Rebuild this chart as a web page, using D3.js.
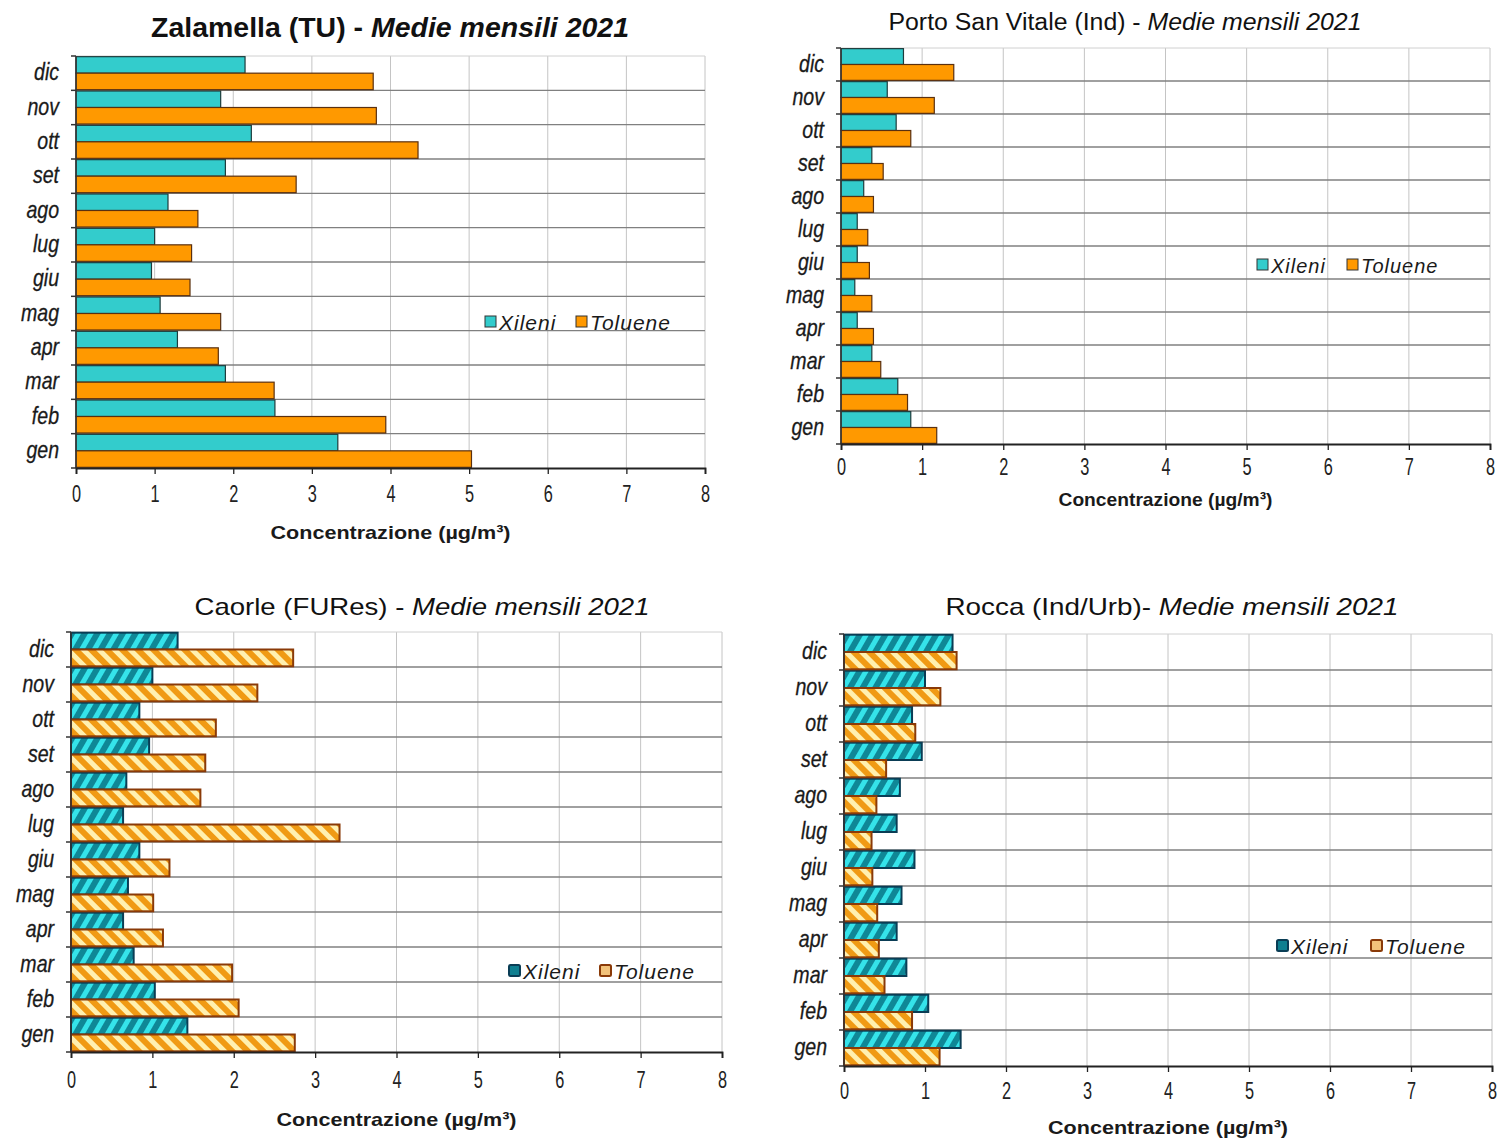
<!DOCTYPE html>
<html>
<head>
<meta charset="utf-8">
<script src="https://cdn.jsdelivr.net/npm/d3@7"></script>
<style>
  html, body { margin: 0; padding: 0; background: #fff; }
  svg { display: block; }
  text { font-family: "Liberation Sans Narrow", "Arial Narrow", "Liberation Sans", sans-serif; }
</style>
</head>
<body>
<svg id="chart" width="1499" height="1140"></svg>
<script>
// ---- Data ----
const months = ["gen", "feb", "mar", "apr", "mag", "giu", "lug", "ago", "set", "ott", "nov", "dic"];
const seriesNames = ["Xileni", "Toluene"];
const xTicks = [0, 1, 2, 3, 4, 5, 6, 7, 8];

const zalamellaXileni  = [3.33, 2.53, 1.90, 1.29, 1.07, 0.96, 1.00, 1.17, 1.90, 2.23, 1.84, 2.15];
const zalamellaToluene = [5.03, 3.94, 2.52, 1.81, 1.84, 1.45, 1.47, 1.55, 2.80, 4.35, 3.82, 3.78];

const portoXileni  = [0.86, 0.70, 0.38, 0.20, 0.17, 0.20, 0.20, 0.28, 0.38, 0.68, 0.57, 0.77];
const portoToluene = [1.18, 0.82, 0.49, 0.40, 0.38, 0.35, 0.33, 0.40, 0.52, 0.86, 1.15, 1.39];

const caorleXileni  = [1.43, 1.03, 0.77, 0.64, 0.70, 0.84, 0.64, 0.68, 0.96, 0.84, 1.00, 1.31];
const caorleToluene = [2.75, 2.06, 1.98, 1.13, 1.01, 1.21, 3.30, 1.59, 1.65, 1.78, 2.29, 2.73];

const roccaXileni  = [1.44, 1.04, 0.77, 0.65, 0.71, 0.87, 0.65, 0.69, 0.96, 0.84, 1.00, 1.34];
const roccaToluene = [1.18, 0.84, 0.50, 0.43, 0.41, 0.35, 0.34, 0.40, 0.52, 0.88, 1.19, 1.39];

const titlesMain = ["Zalamella (TU) - ", "Porto San Vitale (Ind) - ", "Caorle (FURes) - ", "Rocca (Ind/Urb)- "];
const titleItalic = "Medie mensili 2021";
const axisTitle = "Concentrazione  (\u00B5g/m\u00B3)";

// ---- Layout ----
const svg = d3.select("#chart");
const defs = svg.append("defs");

function hatch(id, base, stripe, angle) {
  const p = defs.append("pattern").attr("id", id)
    .attr("patternUnits", "userSpaceOnUse")
    .attr("width", 11).attr("height", 11)
    .attr("patternTransform", `rotate(${angle})`);
  p.append("rect").attr("width", 11).attr("height", 11).attr("fill", base);
  p.append("rect").attr("x", 0).attr("width", 5).attr("height", 11).attr("fill", stripe);
}
hatch("hX", "#0f8796", "#35e3ea", 30);
hatch("hT", "#f09a14", "#fff0b0", -45);

const panels = [
  { title: 0, bold: true, tSize: 27, tx: 390, ty: 37, tLen: 478,
    L: 76, R: 705, T: 56, B: 468, lab: 494, axy: 539, axLen: 240,
    x: zalamellaXileni, t: zalamellaToluene, hatched: false,
    legX: 485, legY: 322, legSize: 21, legGap: 91 },
  { title: 1, bold: false, tSize: 23, tx: 1125, ty: 30, tLen: 473,
    L: 841, R: 1490, T: 48, B: 444, lab: 467, axy: 506, axLen: 214,
    x: portoXileni, t: portoToluene, hatched: false,
    legX: 1257, legY: 265, legSize: 20, legGap: 90 },
  { title: 2, bold: false, tSize: 24, tx: 422, ty: 615, tLen: 455,
    L: 71, R: 722, T: 632, B: 1052, lab: 1080, axy: 1126, axLen: 240,
    x: caorleXileni, t: caorleToluene, hatched: true,
    legX: 509, legY: 971, legSize: 21, legGap: 91 },
  { title: 3, bold: false, tSize: 24, tx: 1172, ty: 615, tLen: 453,
    L: 844, R: 1492, T: 634, B: 1066, lab: 1091, axy: 1134, axLen: 240,
    x: roccaXileni, t: roccaToluene, hatched: true,
    legX: 1277, legY: 946, legSize: 21, legGap: 94 }
];

panels.forEach(p => {
  const g = svg.append("g");
  const x = d3.scaleLinear().domain([0, 8]).range([p.L, p.R]);
  const y = d3.scaleBand().domain(months.slice().reverse()).range([p.T, p.B]).paddingInner(0).paddingOuter(0);
  const ySub = d3.scaleBand().domain(seriesNames).range([0, y.bandwidth()]).paddingOuter(0.04).paddingInner(0);

  // vertical gridlines
  g.append("g").selectAll("line").data(xTicks.slice(1)).join("line")
    .attr("x1", d => x(d)).attr("x2", d => x(d))
    .attr("y1", p.T).attr("y2", p.B)
    .attr("stroke", "#c4c4c4").attr("stroke-width", 1);
  // top gridline
  g.append("line").attr("x1", p.L).attr("x2", p.R).attr("y1", p.T).attr("y2", p.T)
    .attr("stroke", "#d0d0d0").attr("stroke-width", 1);
  // horizontal category boundaries
  g.append("g").selectAll("line").data(months.slice(1)).join("line")
    .attr("x1", p.L).attr("x2", p.R)
    .attr("y1", d => y(d) + y.bandwidth()).attr("y2", d => y(d) + y.bandwidth())
    .attr("stroke", "#808080").attr("stroke-width", 1.3);

  const valsX = p.x, valsT = p.t;
  const rows = months.map((m, i) => ({ m, Xileni: valsX[i], Toluene: valsT[i] }));
  const fills = p.hatched ? { Xileni: "url(#hX)", Toluene: "url(#hT)" } : { Xileni: "#33cccc", Toluene: "#ff9900" };
  const strokes = p.hatched ? { Xileni: "#0a3d55", Toluene: "#8a3a08" } : { Xileni: "#1d3c3c", Toluene: "#5a3010" };
  const sw = p.hatched ? 2 : 1.2;

  const rg = g.append("g").selectAll("g").data(rows).join("g")
    .attr("transform", d => `translate(0,${y(d.m)})`);
  rg.selectAll("rect").data(d => seriesNames.map(s => ({ s, v: d[s] }))).join("rect")
    .attr("x", x(0))
    .attr("y", d => ySub(d.s))
    .attr("width", d => x(d.v) - x(0))
    .attr("height", ySub.bandwidth())
    .attr("fill", d => fills[d.s])
    .attr("stroke", d => strokes[d.s])
    .attr("stroke-width", sw);

  // left axis
  const yAxisG = g.append("g");
  yAxisG.append("line").attr("x1", p.L).attr("x2", p.L).attr("y1", p.T).attr("y2", p.B)
    .attr("stroke", "#333").attr("stroke-width", 1.5);
  yAxisG.selectAll("line.tk").data(months.concat(["_top"])).join("line").attr("class", "tk")
    .attr("x1", p.L - 5).attr("x2", p.L)
    .attr("y1", d => d === "_top" ? p.T : y(d) + y.bandwidth())
    .attr("y2", d => d === "_top" ? p.T : y(d) + y.bandwidth())
    .attr("stroke", "#333").attr("stroke-width", 1.5);
  yAxisG.selectAll("text").data(months).join("text")
    .attr("transform", d => `translate(${p.L - 17},${y(d) + y.bandwidth() / 2 + 7}) scale(0.85,1)`)
    .attr("text-anchor", "end")
    .attr("font-size", 23).attr("font-style", "italic").attr("fill", "#1a1a1a")
    .attr("stroke", "#1a1a1a").attr("stroke-width", 0.3)
    .text(d => d);

  // bottom axis
  const xAxis = d3.axisBottom(x).tickValues(xTicks).tickSize(6).tickFormat(d3.format("d"));
  const xg = g.append("g").attr("transform", `translate(0,${p.B})`).call(xAxis);
  xg.select(".domain").attr("stroke", "#222").attr("stroke-width", 1.8);
  xg.selectAll(".tick line").attr("stroke", "#222").attr("stroke-width", 1.3);
  xg.selectAll(".tick text").attr("font-size", 24).attr("fill", "#222")
    .attr("font-family", "'Liberation Sans', Arial, sans-serif")
    .attr("dy", null)
    .attr("y", 0)
    .attr("transform", `translate(0,${p.lab - p.B + 8}) scale(0.68,1)`);

  // axis title
  g.append("text").attr("x", (p.L + p.R) / 2).attr("y", p.axy)
    .attr("text-anchor", "middle").attr("font-size", 19).attr("font-weight", "bold")
    .attr("fill", "#1a1a1a")
    .attr("textLength", p.axLen).attr("lengthAdjust", "spacingAndGlyphs")
    .text(axisTitle);

  // title
  const tt = g.append("text").attr("x", p.tx).attr("y", p.ty)
    .attr("text-anchor", "middle").attr("font-size", p.tSize)
    .attr("font-weight", p.bold ? "bold" : "normal").attr("fill", "#111")
    .attr("font-family", "'Liberation Sans', Arial, sans-serif")
    .attr("textLength", p.tLen).attr("lengthAdjust", "spacingAndGlyphs");
  tt.append("tspan").text(titlesMain[p.title]);
  tt.append("tspan").attr("font-style", "italic").text(titleItalic);

  // legend
  const lg = g.append("g").attr("transform", `translate(${p.legX},${p.legY})`);
  const legFill = p.hatched ? { Xileni: "#0f7f90", Toluene: "#f2c27a" } : fills;
  const offs = { Xileni: 0, Toluene: p.legGap };
  seriesNames.forEach(s => {
    lg.append("rect").attr("x", offs[s]).attr("y", -6).attr("width", 11).attr("height", 11)
      .attr("fill", legFill[s]).attr("stroke", p.hatched ? strokes[s] : "#333")
      .attr("stroke-width", p.hatched ? 2 : 1).attr("rx", p.hatched ? 1.5 : 0);
    lg.append("text").attr("x", offs[s] + 14).attr("y", 8)
      .attr("font-size", p.legSize).attr("font-style", "italic").attr("letter-spacing", 1)
      .attr("fill", "#1a1a1a").text(s);
  });
});
</script>
</body>
</html>
